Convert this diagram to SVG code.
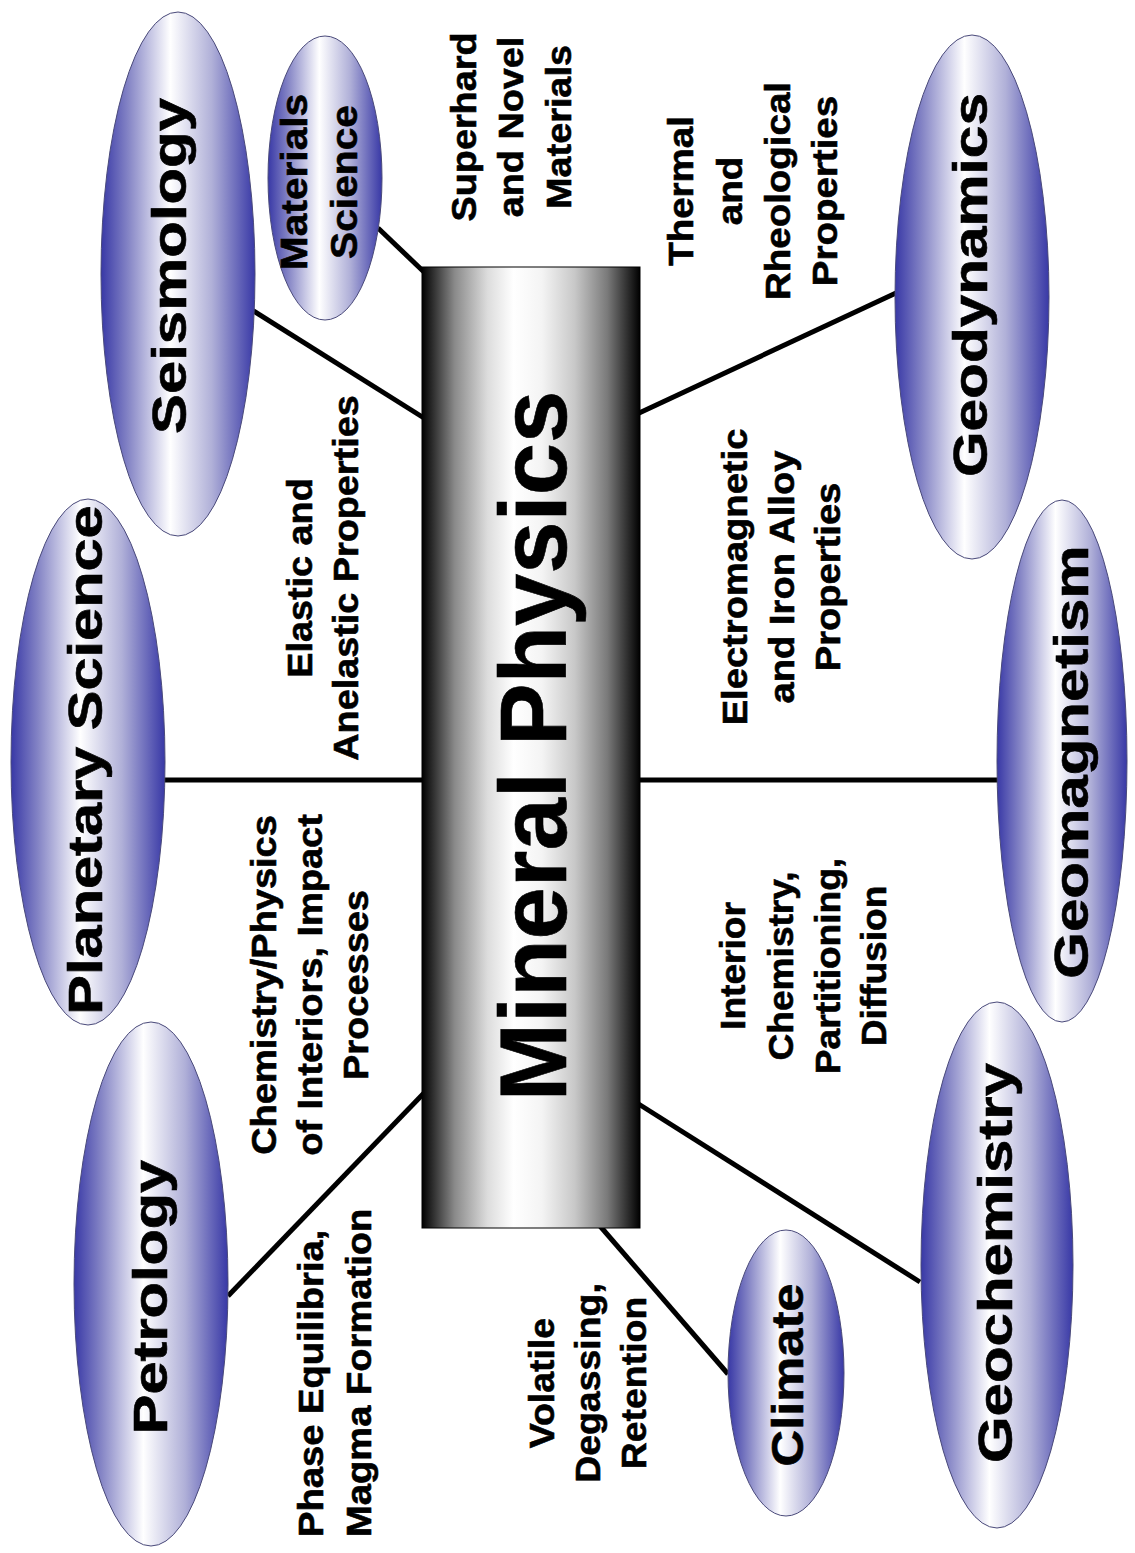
<svg xmlns="http://www.w3.org/2000/svg" width="1135" height="1553" viewBox="0 0 1135 1553">
  <defs>
    <linearGradient id="gEll" x1="0" y1="0" x2="1" y2="0">
      <stop offset="0" stop-color="#3838a6"/>
      <stop offset="0.18" stop-color="#8686c6"/>
      <stop offset="0.45" stop-color="#ffffff"/>
      <stop offset="0.72" stop-color="#b0b0d8"/>
      <stop offset="1" stop-color="#3838a6"/>
    </linearGradient>
    <linearGradient id="gRect" x1="0" y1="0" x2="1" y2="0">
      <stop offset="0" stop-color="#000000"/>
      <stop offset="0.15" stop-color="#8a8a8a"/>
      <stop offset="0.3" stop-color="#dcdcdc"/>
      <stop offset="0.42" stop-color="#ffffff"/>
      <stop offset="0.55" stop-color="#f4f4f4"/>
      <stop offset="0.7" stop-color="#c8c8c8"/>
      <stop offset="0.85" stop-color="#7a7a7a"/>
      <stop offset="1" stop-color="#000000"/>
    </linearGradient>
  </defs>
  <style>
    .ell { fill: url(#gEll); stroke: #4a4a7a; stroke-width: 1; }
    .conn { stroke: #000; stroke-width: 5; fill: none; }
    .t { font-family: "Liberation Sans", Arial, sans-serif; font-weight: bold; fill: #000; stroke: #000; stroke-width: 0.6; }
    .big { font-size: 48px; text-anchor: middle; }
    .sm { font-size: 35px; text-anchor: middle; }
  </style>
  <rect width="1135" height="1553" fill="#ffffff"/>

  <g id="connectors">
    <line class="conn" x1="378" y1="228" x2="424" y2="272"/>
    <line class="conn" x1="252" y1="310" x2="424" y2="418"/>
    <line class="conn" x1="164" y1="780" x2="424" y2="780"/>
    <line class="conn" x1="228" y1="1296" x2="424" y2="1093"/>
    <line class="conn" x1="600" y1="1226" x2="728" y2="1374"/>
    <line class="conn" x1="637" y1="1103" x2="920" y2="1282"/>
    <line class="conn" x1="637" y1="780" x2="999" y2="780"/>
    <line class="conn" x1="637" y1="414" x2="896" y2="293"/>
  </g>

  <g id="mineral-physics">
    <rect x="422" y="267" width="218" height="961" fill="url(#gRect)" stroke="#000" stroke-width="1"/>
    <text class="t" font-size="94" text-anchor="middle" transform="translate(566,746) rotate(-90)">Mineral Physics</text>
  </g>

  <g id="seismology">
    <ellipse class="ell" cx="178" cy="274" rx="77" ry="262"/>
    <text class="t big" transform="translate(186,266) rotate(-90) scale(1.247,1)">Seismology</text>
  </g>

  <g id="materials-science">
    <ellipse class="ell" cx="325" cy="178" rx="57" ry="142"/>
    <text class="t" font-size="36" text-anchor="middle" transform="translate(307,182) rotate(-90) scale(1.13,1)"><tspan x="0" y="0">Materials</tspan><tspan x="0" y="50">Science</tspan></text>
  </g>

  <g id="planetary-science">
    <ellipse class="ell" cx="88" cy="762" rx="77" ry="263"/>
    <text class="t big" transform="translate(102,760) rotate(-90) scale(1.24,1)">Planetary Science</text>
  </g>

  <g id="petrology">
    <ellipse class="ell" cx="151" cy="1284" rx="77" ry="262"/>
    <text class="t big" transform="translate(167,1297) rotate(-90) scale(1.24,1)">Petrology</text>
  </g>

  <g id="geodynamics">
    <ellipse class="ell" cx="972" cy="297" rx="77" ry="262"/>
    <text class="t big" transform="translate(987,285) rotate(-90) scale(1.22,1)">Geodynamics</text>
  </g>

  <g id="geomagnetism">
    <ellipse class="ell" cx="1062" cy="761" rx="65" ry="261"/>
    <text class="t big" transform="translate(1088,762) rotate(-90) scale(1.25,1)">Geomagnetism</text>
  </g>

  <g id="geochemistry">
    <ellipse class="ell" cx="997" cy="1265" rx="76" ry="263"/>
    <text class="t big" transform="translate(1012,1263) rotate(-90) scale(1.25,1)">Geochemistry</text>
  </g>

  <g id="climate">
    <ellipse class="ell" cx="786" cy="1373" rx="58" ry="143"/>
    <text class="t" font-size="44" text-anchor="middle" transform="translate(803,1375) rotate(-90) scale(1.15,1)">Climate</text>
  </g>

  <g id="labels">
    <text class="t sm" transform="translate(476,127) rotate(-90) scale(1.08,1)"><tspan x="0" y="0">Superhard</tspan><tspan x="0" y="47">and Novel</tspan><tspan x="0" y="95">Materials</tspan></text>
    <text class="t sm" transform="translate(693,191) rotate(-90) scale(1.1,1)"><tspan x="0" y="0">Thermal</tspan><tspan x="0" y="49">and</tspan><tspan x="0" y="97">Rheological</tspan><tspan x="0" y="144">Properties</tspan></text>
    <text class="t sm" transform="translate(312,578) rotate(-90) scale(1.08,1)"><tspan x="0" y="0">Elastic and</tspan><tspan x="0" y="46">Anelastic Properties</tspan></text>
    <text class="t sm" transform="translate(747,577) rotate(-90) scale(1.09,1)"><tspan x="0" y="0">Electromagnetic</tspan><tspan x="0" y="47">and Iron Alloy</tspan><tspan x="0" y="93">Properties</tspan></text>
    <text class="t sm" transform="translate(276,985) rotate(-90) scale(1.085,1)"><tspan x="0" y="0">Chemistry/Physics</tspan><tspan x="0" y="46">of Interiors, Impact</tspan><tspan x="0" y="92">Processes</tspan></text>
    <text class="t sm" transform="translate(745,966) rotate(-90) scale(1.06,1)"><tspan x="0" y="0">Interior</tspan><tspan x="0" y="48">Chemistry,</tspan><tspan x="0" y="95">Partitioning,</tspan><tspan x="0" y="141">Diffusion</tspan></text>
    <text class="t" font-size="35" text-anchor="start" transform="translate(323,1537) rotate(-90) scale(1.09,1)"><tspan x="0" y="0">Phase Equilibria,</tspan><tspan x="0" y="48">Magma Formation</tspan></text>
    <text class="t sm" transform="translate(554,1383) rotate(-90) scale(1.07,1)"><tspan x="0" y="0">Volatile</tspan><tspan x="0" y="46">Degassing,</tspan><tspan x="0" y="92">Retention</tspan></text>
  </g>
</svg>
